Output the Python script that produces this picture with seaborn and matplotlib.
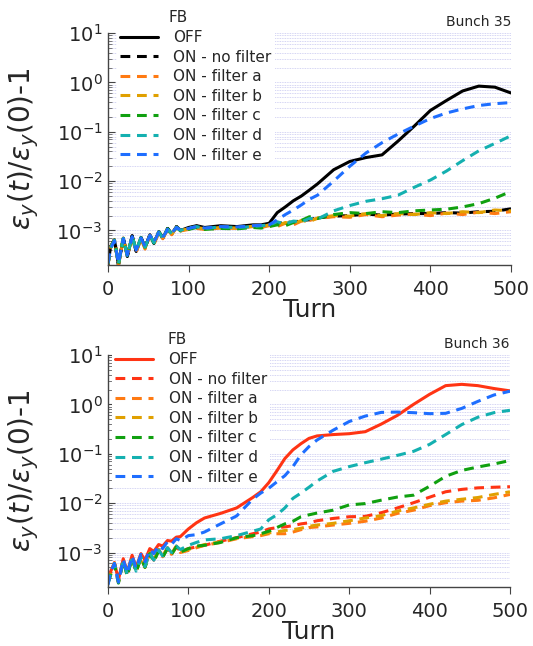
import numpy as np
import seaborn as sns
import matplotlib
matplotlib.use('Agg')
import matplotlib.pyplot as plt

# turn grid (shared by both panels)
turns = [0, 3, 8, 13, 19, 24, 30, 35, 41, 46, 52, 57, 63, 68, 74, 79, 85, 90,
         100, 110, 120, 140, 160, 180, 190, 200, 210, 220, 230, 240, 250, 260,
         280, 300, 320, 340, 360, 380, 400, 420, 440, 460, 480, 500]

unit = 1e-3   # values below are in units of 1e-3

# ---- Bunch 35 ----
off35 = [0.20, 0.45, 0.65, 0.20, 0.70, 0.30, 0.78, 0.38, 0.72, 0.45, 0.82, 0.55, 0.95, 0.70, 1.10, 0.85, 1.20, 1.00,
         1.15, 1.25, 1.15, 1.25, 1.20, 1.30, 1.30, 1.40, 2.30, 3.00, 4.00, 5.00, 6.60, 8.80,
         17, 25, 30, 34, 65, 130, 270, 430, 670, 840, 800, 610]
nf35 = [0.20, 0.46, 0.66, 0.20, 0.71, 0.30, 0.78, 0.38, 0.72, 0.45, 0.82, 0.55, 0.95, 0.70, 1.10, 0.85, 1.20, 1.00,
        1.12, 1.22, 1.12, 1.20, 1.18, 1.25, 1.25, 1.30, 1.35, 1.50, 1.45, 1.60, 1.65, 1.80,
        1.95, 2.0, 2.15, 2.05, 2.15, 2.2, 2.2, 2.3, 2.25, 2.4, 2.45, 2.75]
a35 = [0.20, 0.44, 0.63, 0.20, 0.68, 0.30, 0.74, 0.36, 0.68, 0.42, 0.78, 0.52, 0.90, 0.68, 1.05, 0.82, 1.15, 0.98,
       1.05, 1.10, 1.05, 1.12, 1.10, 1.20, 1.15, 1.25, 1.20, 1.40, 1.30, 1.55, 1.60, 1.75,
       1.9, 1.85, 2.1, 1.9, 2.05, 2.15, 2.0, 2.25, 2.1, 2.35, 2.2, 2.4]
b35 = [0.21, 0.45, 0.64, 0.21, 0.70, 0.31, 0.76, 0.37, 0.70, 0.44, 0.80, 0.54, 0.92, 0.69, 1.07, 0.84, 1.17, 1.00,
       1.08, 1.15, 1.08, 1.15, 1.12, 1.22, 1.18, 1.30, 1.25, 1.45, 1.35, 1.60, 1.50, 1.80,
       2.0, 1.95, 2.2, 2.0, 2.2, 2.1, 2.3, 2.2, 2.4, 2.3, 2.6, 2.5]
c35 = [0.21, 0.43, 0.64, 0.21, 0.69, 0.31, 0.77, 0.39, 0.71, 0.46, 0.80, 0.56, 0.93, 0.70, 1.08, 0.84, 1.15, 0.98,
       1.05, 1.15, 1.05, 1.10, 1.08, 1.15, 1.12, 1.20, 1.30, 1.25, 1.45, 1.60, 1.90, 1.75,
       2.1, 2.3, 2.2, 2.4, 2.3, 2.5, 2.6, 2.7, 3.0, 3.5, 4.5, 6.2]
d35 = [0.21, 0.44, 0.63, 0.21, 0.69, 0.31, 0.76, 0.39, 0.71, 0.46, 0.81, 0.56, 0.93, 0.71, 1.07, 0.86, 1.17, 1.01,
       1.12, 1.20, 1.10, 1.18, 1.15, 1.20, 1.25, 1.30, 1.50, 1.35, 1.55, 1.50, 1.75, 1.70,
       2.5, 3.2, 3.9, 4.4, 5.2, 7.5, 10.5, 16, 26, 41, 58, 83]
e35 = [0.22, 0.42, 0.62, 0.22, 0.68, 0.32, 0.75, 0.40, 0.70, 0.47, 0.80, 0.57, 0.92, 0.72, 1.05, 0.88, 1.15, 1.02,
       1.10, 1.20, 1.12, 1.20, 1.18, 1.25, 1.28, 1.30, 1.65, 2.10, 2.60, 3.30, 4.30, 5.20,
       10, 20, 37, 60, 90, 130, 185, 240, 290, 340, 370, 390]

# ---- Bunch 36 ----
off36 = [0.25, 0.40, 0.62, 0.28, 0.75, 0.40, 0.88, 0.50, 0.95, 0.70, 1.20, 1.05, 1.45, 1.35, 1.75, 1.70, 2.05, 2.10,
         3.0, 4.0, 5.0, 6.2, 8.0, 13, 17, 26, 45, 80, 120, 160, 205, 230,
         245, 255, 280, 400, 600, 1000, 1600, 2400, 2550, 2400, 2100, 1880]
nf36 = [0.25, 0.37, 0.62, 0.26, 0.72, 0.36, 0.82, 0.43, 0.82, 0.53, 1.00, 0.70, 1.15, 0.85, 1.25, 0.95, 1.35, 1.05,
        1.2, 1.3, 1.4, 1.7, 2.0, 2.4, 2.6, 3.0, 3.2, 3.3, 3.5, 3.8, 4.0, 4.4,
        4.9, 5.3, 5.4, 6.4, 8.0, 10.2, 13.2, 17, 19, 20.4, 21, 21.5]
a36 = [0.24, 0.35, 0.60, 0.25, 0.70, 0.34, 0.80, 0.40, 0.80, 0.50, 0.97, 0.68, 1.12, 0.82, 1.22, 0.92, 1.30, 1.00,
       1.1, 1.25, 1.4, 1.6, 1.9, 2.1, 2.2, 2.4, 2.4, 2.4, 2.6, 2.9, 3.2, 3.3,
       3.6, 3.9, 4.3, 5.0, 6.2, 7.2, 8.9, 10.2, 11, 11.4, 12.8, 15]
b36 = [0.25, 0.36, 0.61, 0.25, 0.71, 0.35, 0.81, 0.41, 0.81, 0.51, 0.98, 0.69, 1.13, 0.83, 1.23, 0.93, 1.32, 1.02,
       1.15, 1.3, 1.45, 1.65, 1.95, 2.2, 2.3, 2.5, 2.6, 2.8, 2.9, 3.1, 3.4, 3.6,
       3.9, 4.4, 5.0, 5.6, 6.9, 8.0, 9.5, 11, 12, 13, 15, 17]
c36 = [0.24, 0.34, 0.58, 0.24, 0.68, 0.33, 0.78, 0.40, 0.78, 0.50, 0.95, 0.65, 1.08, 0.80, 1.20, 0.92, 1.30, 1.02,
       1.2, 1.35, 1.4, 1.6, 2.0, 2.2, 2.4, 2.7, 3.2, 3.8, 4.3, 5.3, 5.8, 6.3,
       7.2, 9.2, 9.8, 11.5, 13.3, 14.5, 22, 35, 46, 54, 62, 73]
d36 = [0.23, 0.36, 0.60, 0.26, 0.70, 0.36, 0.80, 0.42, 0.80, 0.52, 0.98, 0.70, 1.12, 0.85, 1.25, 1.00, 1.35, 1.15,
       1.4, 1.6, 1.8, 1.9, 2.2, 2.7, 3.0, 4.6, 5.8, 8.0, 12.5, 16, 21, 28,
       44, 55, 66, 78, 93, 112, 155, 245, 390, 550, 680, 760]
e36 = [0.22, 0.38, 0.60, 0.25, 0.72, 0.38, 0.85, 0.48, 0.92, 0.65, 1.15, 0.95, 1.40, 1.20, 1.65, 1.45, 1.90, 1.75,
       2.2, 2.3, 2.6, 3.8, 5.5, 12, 16, 20, 27, 36, 55, 95, 140, 190,
       300, 450, 580, 690, 700, 680, 650, 660, 830, 1150, 1550, 1850]

labels = ['OFF', 'ON - no filter', 'ON - filter a', 'ON - filter b',
          'ON - filter c', 'ON - filter d', 'ON - filter e']
colors35 = ['black', 'black', '#ff7a12', '#e0a000', '#10a010', '#14b0b0', '#1e6eff']
colors36 = ['#ff3414', '#ff3414', '#ff7a12', '#e0a000', '#10a010', '#14b0b0', '#1e6eff']

sns.set_style('white')
plt.rcParams['font.family'] = ['DejaVu Sans']

fig = plt.figure(figsize=(5.33, 6.46), dpi=100)
ax1 = fig.add_axes([0.2026, 0.5898, 0.7561, 0.3591])
ax2 = fig.add_axes([0.2026, 0.0913, 0.7542, 0.3591])

dash = (0, (3.2, 2.2))
t = np.array(turns)

def draw(ax, series, colors, bunch, lx):
    for i, (vals, col, lab) in enumerate(zip(series, colors, labels)):
        sns.lineplot(x=t, y=np.array(vals) * unit, ax=ax, color=col, label=lab,
                     linewidth=2.2, linestyle='-' if i == 0 else dash, zorder=2 + i * 0.01)
    ax.set_yscale('log')
    ax.set_ylim(2e-4, 10)
    ax.set_xlim(0, 500)
    ax.set_xticks([0, 100, 200, 300, 400, 500])
    ax.set_axisbelow(True)
    ax.yaxis.grid(True, which='both', color='#c6c6f0', linestyle=(0, (1, 1)), linewidth=0.6)
    ax.xaxis.grid(False)
    for s in ['top', 'right']:
        ax.spines[s].set_visible(False)
    for s in ['left', 'bottom']:
        ax.spines[s].set_color('#444444')
        ax.spines[s].set_linewidth(1.0)
    ax.tick_params(axis='x', which='major', direction='out', length=5, labelsize=14,
                   color='#444444', bottom=True, pad=6)
    ax.tick_params(axis='y', which='major', direction='in', length=5, labelsize=14,
                   color='#444444', left=True, pad=4)
    ax.tick_params(axis='y', which='minor', direction='in', length=3, color='#666666', left=True)
    ax.set_xlabel('Turn', fontsize=18, labelpad=-1)
    ax.set_ylabel(r'$\varepsilon_y(t)/\varepsilon_y(0)$-1', fontsize=20)
    ax.yaxis.set_label_coords(-0.166, 0.5)
    leg = ax.legend(loc='upper left', bbox_to_anchor=(lx, 1.026), fontsize=11,
                    frameon=True, facecolor='white', edgecolor='none', framealpha=1,
                    fancybox=False, borderpad=0.2, labelspacing=0.3,
                    handlelength=2.5, handletextpad=1.0, borderaxespad=0)
    leg.set_zorder(1)
    ax.text(0.149, 1.065, 'FB', transform=ax.transAxes, fontsize=11, ha='left', va='center')
    ax.text(1.0, 1.047, bunch, transform=ax.transAxes, fontsize=10, ha='right', va='center')

draw(ax1, [off35, nf35, a35, b35, c35, d35, e35], colors35, 'Bunch 35', 0.022)
draw(ax2, [off36, nf36, a36, b36, c36, d36, e36], colors36, 'Bunch 36', 0.01)

fig.savefig('out.png', dpi=100, facecolor='white')
